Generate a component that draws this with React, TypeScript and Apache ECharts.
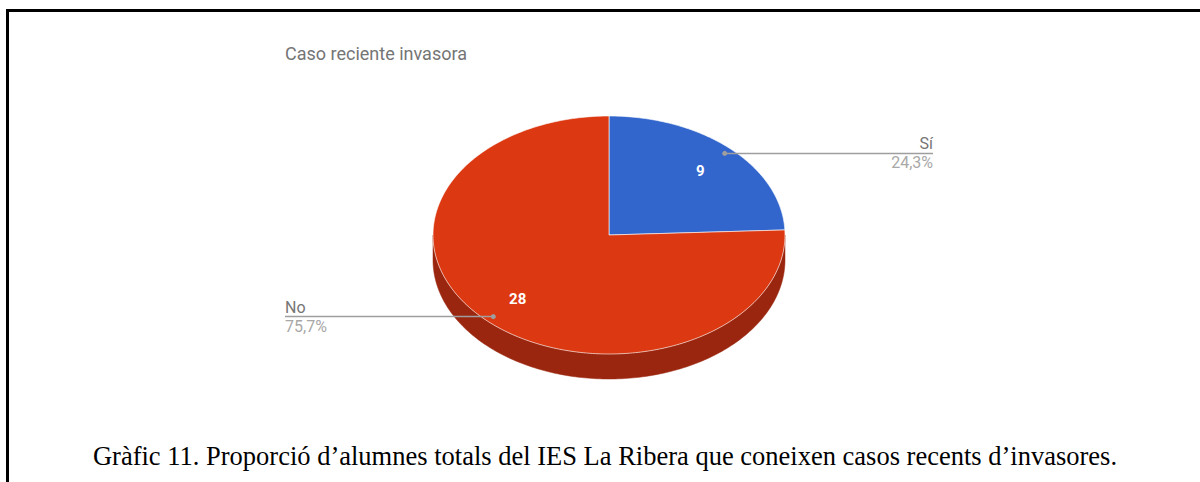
import React, { useEffect, useRef } from "react";
import * as echarts from "echarts";

const chartTitle = "Caso reciente invasora";
const categories = ["Sí", "No"];
const values = [9, 28];
const sliceColors = ["#3366cc", "#dc3912"];
const sideColors = ["#22448a", "#9b260f"];
const caption =
  "Gràfic 11. Proporció d’alumnes totals del IES La Ribera que coneixen casos recents d’invasores.";

const CX = 609;
const CY = 235;
const RX = 176;
const RY = 119;
const DEPTH = 25;

function pt(deg: number, f: number, dy = 0): number[] {
  const r = (deg * Math.PI) / 180;
  return [CX + RX * f * Math.sin(r), CY - RY * f * Math.cos(r) + dy];
}

function arc(a: number, b: number, dy = 0): number[][] {
  const out: number[][] = [];
  const n = Math.max(2, Math.ceil(Math.abs(b - a)));
  for (let i = 0; i <= n; i++) out.push(pt(a + ((b - a) * i) / n, 1, dy));
  return out;
}

export default function App() {
  const ref = useRef<HTMLDivElement>(null);
  useEffect(() => {
    if (!ref.current) return;
    const chart = echarts.init(ref.current, undefined, { renderer: "svg" });
    const total = values.reduce((s, v) => s + v, 0);
    const starts: number[] = [];
    let acc = 0;
    values.forEach((v) => {
      starts.push((acc / total) * 360);
      acc += v;
    });

    const renderItem = (params: any, api: any) => {
      const i = params.dataIndex;
      const v = api.value(0);
      const a = starts[i];
      const b = a + (v / total) * 360;
      const children: any[] = [];
      const sa = Math.max(a, 90);
      const sb = Math.min(b, 270);
      if (sb > sa) {
        const top = arc(sa, sb);
        const bottom = arc(sa, sb, DEPTH).reverse();
        children.push({
          type: "polygon",
          z2: 1,
          shape: { points: top.concat(bottom) },
          style: { fill: sideColors[i], stroke: sideColors[i], lineWidth: 0.5 },
        });
      }
      children.push({
        type: "polygon",
        z2: 10,
        shape: { points: [[CX, CY]].concat(arc(a, b)) },
        style: { fill: sliceColors[i], stroke: "#ffffff", lineWidth: 0.6 },
      });
      const mid = (a + b) / 2;
      const lp = pt(mid, 0.75);
      children.push({
        type: "text",
        z2: 20,
        x: lp[0],
        y: lp[1],
        style: {
          text: String(v),
          fill: "#ffffff",
          font: "bold 15px Roboto",
          align: "center",
          verticalAlign: "middle",
        },
      });
      const dp = pt(mid, 0.95);
      const right = dp[0] > CX;
      const endX = right ? 933 : 285;
      children.push({
        type: "line",
        z2: 21,
        shape: { x1: dp[0], y1: dp[1], x2: endX, y2: dp[1] },
        style: { stroke: "#9e9e9e", lineWidth: 1.5 },
      });
      children.push({
        type: "circle",
        z2: 22,
        shape: { cx: dp[0], cy: dp[1], r: 2.5 },
        style: { fill: "#9e9e9e" },
      });
      const pct = ((v / total) * 100).toFixed(1).replace(".", ",") + "%";
      children.push({
        type: "text",
        z2: 22,
        x: endX,
        y: dp[1] - 9.5,
        style: {
          text: categories[i],
          fill: "#757575",
          font: "16px Roboto",
          align: right ? "right" : "left",
          verticalAlign: "middle",
        },
      });
      children.push({
        type: "text",
        z2: 22,
        x: endX,
        y: dp[1] + 9.5,
        style: {
          text: pct,
          fill: "#a8a8a8",
          font: "16px Roboto",
          align: right ? "right" : "left",
          verticalAlign: "middle",
        },
      });
      return { type: "group", children };
    };

    chart.setOption({
      animation: false,
      backgroundColor: "#ffffff",
      title: {
        text: chartTitle,
        left: 280,
        top: 39,
        textStyle: {
          fontFamily: "Roboto",
          fontSize: 18,
          fontWeight: "normal",
          color: "#757575",
        },
      },
      series: [
        {
          type: "custom",
          coordinateSystem: "none",
          renderItem,
          data: values.map((v, i) => ({ name: categories[i], value: [v] })),
        },
      ],
      graphic: [
        {
          type: "line",
          shape: { x1: 6, y1: 10.5, x2: 1200, y2: 10.5 },
          style: { stroke: "#000000", lineWidth: 3 },
        },
        {
          type: "line",
          shape: { x1: 7.5, y1: 9, x2: 7.5, y2: 482 },
          style: { stroke: "#000000", lineWidth: 3 },
        },
        {
          type: "text",
          x: 605,
          y: 456,
          style: {
            text: caption,
            fill: "#000000",
            font: '26.5px "Liberation Serif"',
            align: "center",
            verticalAlign: "middle",
          },
        },
      ],
    });
    return () => chart.dispose();
  }, []);
  return (
    <div
      ref={ref}
      style={{ position: "fixed", left: 0, top: 0, width: 1200, height: 482 }}
    />
  );
}
